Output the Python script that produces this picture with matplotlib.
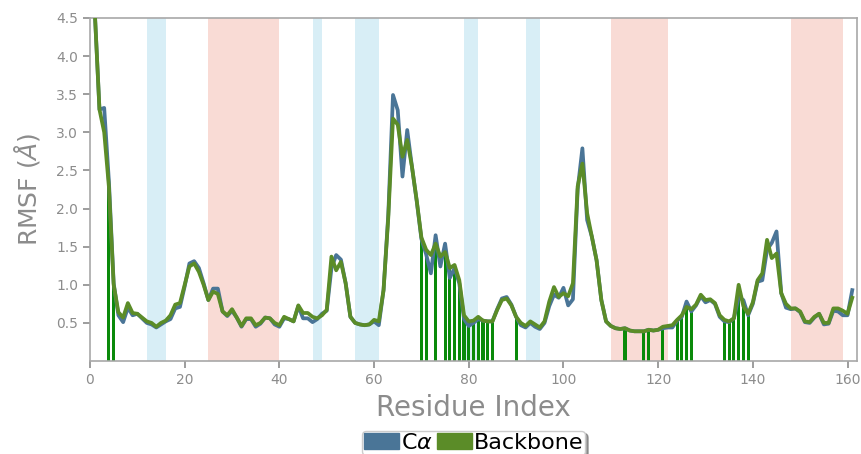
import numpy as np
import matplotlib.pyplot as plt
from matplotlib.patches import Patch

# RMSF per residue (Angstrom), residues 1..161
residues = np.arange(1, 162)
rmsf_ca = [4.6, 3.30, 3.32, 2.35, 1.02, 0.60, 0.51, 0.70, 0.60, 0.62,
           0.56, 0.50, 0.48, 0.44, 0.48, 0.52, 0.55, 0.69, 0.71, 0.98,
           1.28, 1.31, 1.22, 1.02, 0.80, 0.95, 0.95, 0.65, 0.59, 0.66,
           0.57, 0.45, 0.55, 0.55, 0.45, 0.49, 0.57, 0.56, 0.48, 0.45,
           0.56, 0.55, 0.52, 0.72, 0.56, 0.56, 0.51, 0.55, 0.62, 0.66,
           1.22, 1.39, 1.33, 1.02, 0.58, 0.50, 0.48, 0.47, 0.48, 0.52,
           0.47, 0.93, 1.92, 3.49, 3.29, 2.42, 3.03, 2.55, 2.10, 1.60,
           1.40, 1.15, 1.65, 1.24, 1.54, 1.09, 1.22, 1.02, 0.55, 0.46,
           0.50, 0.55, 0.53, 0.52, 0.52, 0.68, 0.82, 0.84, 0.74, 0.58,
           0.47, 0.44, 0.50, 0.45, 0.42, 0.50, 0.72, 0.87, 0.83, 0.96,
           0.73, 0.81, 2.25, 2.79, 1.85, 1.63, 1.32, 0.80, 0.52, 0.46,
           0.43, 0.42, 0.43, 0.40, 0.39, 0.39, 0.39, 0.41, 0.40, 0.41,
           0.43, 0.44, 0.44, 0.53, 0.58, 0.78, 0.65, 0.73, 0.85, 0.77,
           0.80, 0.75, 0.58, 0.52, 0.51, 0.56, 0.84, 0.80, 0.60, 0.75,
           1.04, 1.06, 1.46, 1.55, 1.70, 0.89, 0.70, 0.68, 0.69, 0.64,
           0.51, 0.50, 0.57, 0.62, 0.48, 0.49, 0.66, 0.65, 0.60, 0.60,
           0.93]
rmsf_bb = [4.6, 3.30, 3.00, 2.28, 1.00, 0.64, 0.57, 0.76, 0.63, 0.62,
           0.57, 0.52, 0.50, 0.45, 0.50, 0.53, 0.60, 0.74, 0.76, 1.00,
           1.24, 1.28, 1.17, 1.00, 0.80, 0.91, 0.88, 0.65, 0.60, 0.68,
           0.57, 0.46, 0.56, 0.56, 0.47, 0.50, 0.57, 0.56, 0.50, 0.47,
           0.58, 0.55, 0.52, 0.73, 0.63, 0.63, 0.58, 0.56, 0.60, 0.67,
           1.37, 1.19, 1.30, 1.02, 0.58, 0.50, 0.48, 0.47, 0.48, 0.54,
           0.52, 0.93, 1.88, 3.18, 3.10, 2.68, 2.90, 2.55, 2.11, 1.62,
           1.46, 1.39, 1.54, 1.37, 1.43, 1.22, 1.26, 1.06, 0.60, 0.52,
           0.53, 0.58, 0.53, 0.52, 0.52, 0.67, 0.80, 0.82, 0.73, 0.58,
           0.50, 0.46, 0.52, 0.48, 0.44, 0.52, 0.78, 0.97, 0.84, 0.89,
           0.85, 1.02, 2.29, 2.59, 1.94, 1.63, 1.32, 0.80, 0.52, 0.46,
           0.43, 0.42, 0.43, 0.40, 0.39, 0.39, 0.39, 0.41, 0.40, 0.41,
           0.45, 0.46, 0.47, 0.54, 0.60, 0.71, 0.68, 0.74, 0.87, 0.80,
           0.81, 0.76, 0.60, 0.54, 0.52, 0.56, 1.00, 0.72, 0.62, 0.77,
           1.06, 1.15, 1.59, 1.35, 1.41, 0.89, 0.75, 0.69, 0.69, 0.65,
           0.52, 0.51, 0.58, 0.62, 0.50, 0.50, 0.69, 0.69, 0.66, 0.62,
           0.83]

# residues marked with vertical bars
marked = [4, 5, 70, 71, 73, 75, 76, 77, 78, 79, 80, 81, 82, 83, 84, 85, 90,
          113, 117, 118, 121, 124, 125, 126, 127, 134, 135, 136, 137, 138, 139]

# secondary structure regions
blue_regions = [(12, 16), (47, 49), (56, 61), (79, 82), (92, 95)]
pink_regions = [(25, 40), (110, 122), (148, 159)]

c_ca = '#4a7597'
c_bb = '#5b8c28'
grey = '#8c8c8c'

fig = plt.figure(figsize=(8.62, 4.54), dpi=100)
ax = fig.add_axes([0.1044, 0.2048, 0.8898, 0.7556])

for a, b in blue_regions:
    ax.axvspan(a, b, color='#d8eef6', lw=0, zorder=0)
for a, b in pink_regions:
    ax.axvspan(a, b, color='#f9dbd5', lw=0, zorder=0)

bb = np.array(rmsf_bb)
idx = np.array(marked) - 1
ax.bar(residues[idx], bb[idx], width=0.65, color='#0a8a0a', zorder=1)

ax.plot(residues, rmsf_ca, color=c_ca, lw=2.7, zorder=2)
ax.plot(residues, rmsf_bb, color=c_bb, lw=2.7, zorder=3)

ax.set_xlim(0, 162)
ax.set_ylim(0, 4.5)
ax.set_xticks(np.arange(0, 161, 20))
ax.set_yticks(np.arange(0.5, 4.51, 0.5))

for s in ax.spines.values():
    s.set_color('#a8a8a8')
    s.set_linewidth(1.2)
ax.tick_params(axis='both', colors=grey, labelsize=10, length=5, width=1.2,
               labelcolor=grey)
ax.tick_params(top=False, right=False)

ax.set_xlabel('Residue Index', fontsize=20, color=grey, labelpad=5)
ax.set_ylabel(r'RMSF ($\AA$)', fontsize=18, color=grey, labelpad=10)

handles = [Patch(color=c_ca, label=r'C$\alpha$'),
           Patch(color=c_bb, label='Backbone')]
ax.legend(handles=handles, loc='upper center', bbox_to_anchor=(0.5, -0.203),
          ncol=2, fontsize=16, handlelength=1.6, handletextpad=0.05,
          columnspacing=0.2, borderpad=0.1, borderaxespad=0, shadow=True,
          framealpha=1, edgecolor='#cccccc', fancybox=True)

fig.savefig('out.png', dpi=100)
